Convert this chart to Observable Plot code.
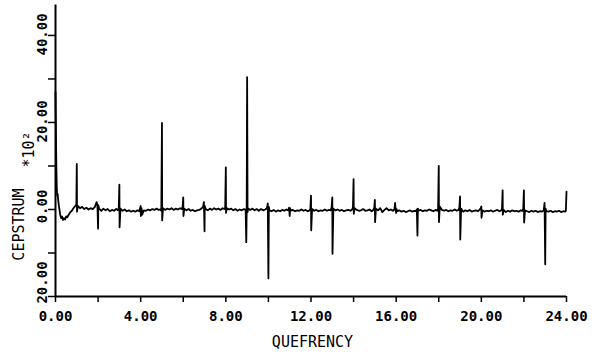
<!DOCTYPE html>
<html><head><meta charset="utf-8">
<script src="https://cdn.jsdelivr.net/npm/d3@7"></script>
<script src="https://cdn.jsdelivr.net/npm/@observablehq/plot@0.6"></script>
<style>
html,body{margin:0;padding:0;background:#fff;}
#chart svg{display:block;background:#fff;}
g[aria-label="xlabels"] text, g[aria-label="ylabels"] text{letter-spacing:1.4px;}
g[aria-label="ytitle"] text{letter-spacing:1px;}
g[aria-label="yscale"] text{letter-spacing:3px;}
g[aria-label="xtitle"] text{letter-spacing:0.3px;}
</style></head><body><div id="chart"></div>
<script>
const quefrency = [
  0,0.02,0.04,0.06,0.08,0.10,0.13,0.17,0.22,0.27,0.31,0.35,0.40,0.45,0.50,0.55,0.62,0.70,0.78,0.86,0.93,0.98,
  1.00,1.01,1.05,1.15,1.25,1.35,1.45,1.55,1.65,1.75,1.85,1.93,1.97,
  2.00,2.01,2.05,2.15,2.25,2.35,2.45,2.55,2.65,2.75,2.85,2.93,2.97,
  3.00,3.01,3.05,3.15,3.25,3.35,3.45,3.55,3.65,3.75,3.85,3.93,3.97,
  4.00,4.01,4.04,4.07,4.15,4.25,4.35,4.45,4.55,4.65,4.75,4.85,4.93,4.97,
  5.00,5.01,5.05,5.15,5.25,5.35,5.45,5.55,5.65,5.75,5.85,5.93,5.97,
  6.00,6.01,6.05,6.15,6.25,6.35,6.45,6.55,6.65,6.75,6.85,6.93,6.97,
  7.00,7.01,7.05,7.15,7.25,7.35,7.45,7.55,7.65,7.75,7.85,7.93,7.97,
  8.00,8.01,8.05,8.15,8.25,8.35,8.45,8.55,8.65,8.75,8.85,8.93,8.96,8.98,
  9.00,9.02,9.05,9.15,9.25,9.35,9.45,9.55,9.65,9.75,9.85,9.93,9.97,
  10.00,10.02,10.05,10.15,10.25,10.35,10.45,10.55,10.65,10.75,10.85,10.93,10.97,
  11.00,11.02,11.05,11.15,11.25,11.35,11.45,11.55,11.65,11.75,11.85,11.93,11.97,
  12.00,12.01,12.05,12.15,12.25,12.35,12.45,12.55,12.65,12.75,12.85,12.93,12.97,
  13.00,13.01,13.05,13.15,13.25,13.35,13.45,13.55,13.65,13.75,13.85,13.93,13.97,
  14.00,14.01,14.05,14.15,14.25,14.35,14.45,14.55,14.65,14.75,14.85,14.93,14.97,
  15.00,15.01,15.05,15.15,15.25,15.35,15.45,15.55,15.65,15.75,15.85,15.92,15.95,15.98,
  16.00,16.02,16.05,16.15,16.25,16.35,16.45,16.55,16.65,16.75,16.85,16.93,16.97,
  17.00,17.02,17.05,17.15,17.25,17.35,17.45,17.55,17.65,17.75,17.85,17.93,17.97,
  18.00,18.01,18.05,18.15,18.25,18.35,18.45,18.55,18.65,18.75,18.85,18.93,18.97,
  19.00,19.01,19.05,19.15,19.25,19.35,19.45,19.55,19.65,19.75,19.85,19.93,19.97,
  20.00,20.01,20.05,20.15,20.25,20.35,20.45,20.55,20.65,20.75,20.85,20.93,20.97,
  21.00,21.01,21.05,21.15,21.25,21.35,21.45,21.55,21.65,21.75,21.85,21.93,21.97,
  22.00,22.01,22.05,22.15,22.25,22.35,22.45,22.55,22.65,22.75,22.85,22.93,22.97,
  23.00,23.02,23.05,23.15,23.25,23.35,23.45,23.55,23.65,23.75,23.85,23.93,23.97,
  24.00
];
const cepstrum = [
  27,18,10,5,3.2,3.6,2.0,0.5,-1.2,-2.0,-1.6,-2.4,-2.0,-2.3,-1.6,-1.8,-1.2,-0.6,-0.2,0.4,0.8,1.2,
  10.5,-0.5,0.8,0.3,0.6,0.1,0.4,0.0,0.3,0.1,0.6,1.7,0.9,
  -4.4,1.0,0.2,-0.3,0.2,-0.2,0.1,-0.4,-0.1,-0.3,0.1,-0.2,0.3,
  5.7,-4.1,0.2,-0.3,0.0,-0.4,-0.2,-0.5,-0.3,-0.5,-0.2,-0.4,0.3,
  0.8,-1.5,0.3,-1.2,-0.2,-0.3,0.0,-0.2,0.1,-0.1,0.2,-0.1,0.0,-0.3,
  19.9,-2.5,0.3,-0.1,0.2,0.0,0.3,-0.1,0.2,0.0,0.3,0.1,0.6,
  2.8,-1.5,0.2,-0.2,0.1,-0.3,-0.1,-0.4,-0.2,-0.1,0.2,0.6,1.7,
  -5.0,0.8,0.1,-0.2,0.2,-0.1,0.3,0.0,0.2,-0.1,0.3,0.1,0.4,
  9.7,-0.8,0.3,0.0,0.2,-0.2,0.1,-0.3,0.0,-0.2,0.1,-0.1,-7.5,0.2,
  30.4,-0.6,0.2,-0.1,0.2,-0.2,0.1,-0.3,0.1,-0.2,0.0,0.3,1.4,
  -15.8,0.6,-0.2,-0.4,-0.1,-0.5,-0.2,-0.4,-0.1,-0.3,0.0,-0.2,0.4,
  -1.5,0.3,-0.3,-0.1,-0.4,-0.2,-0.3,0.0,-0.3,-0.1,-0.4,-0.2,0.2,
  3.2,-4.8,0.1,-0.3,-0.1,-0.4,-0.2,-0.3,0.0,-0.3,-0.1,-0.2,0.6,
  2.8,-10.2,0.2,-0.2,0.0,-0.3,-0.1,-0.4,-0.2,-0.1,-0.3,0.0,0.5,
  7.0,-1.0,0.3,-0.1,-0.3,-0.2,0.1,-0.3,-0.2,0.0,-0.4,-0.1,0.4,
  2.2,-2.9,0.2,-0.2,0.3,-0.6,-0.1,0.3,-0.2,0.0,-0.3,0.1,1.5,-0.3,
  -0.8,0.1,-0.4,-0.2,-0.5,-0.3,-0.6,-0.4,-0.2,-0.5,-0.3,-0.4,0.0,
  -6.0,0.2,-0.3,-0.1,-0.4,-0.2,-0.3,0.0,-0.2,-0.4,-0.1,-0.3,0.3,
  10.0,-2.9,0.7,-0.1,-0.3,-0.1,-0.4,-0.2,-0.3,0.0,-0.3,-0.1,0.5,
  3.0,-6.9,0.2,-0.5,-0.2,-0.4,-0.1,-0.5,-0.3,-0.2,-0.4,0.0,0.3,
  0.7,-1.9,-0.2,-0.5,-0.3,-0.4,-0.2,-0.5,-0.3,-0.1,-0.4,-0.2,0.1,
  4.4,-1.2,-0.1,-0.6,-0.3,-0.5,-0.2,-0.4,-0.3,-0.5,-0.2,-0.3,0.2,
  4.4,-3.0,-0.2,-0.4,-0.6,-0.3,-0.5,-0.3,-0.6,-0.4,-0.5,-0.2,1.5,
  -12.6,0.2,-0.4,-0.5,-0.3,-0.6,-0.4,-0.5,-0.3,-0.6,-0.4,-0.5,-0.3,
  4.1
];
const xTicks = [0, 4, 8, 12, 16, 20, 24];
const xTickLabels = ["0.00", "4.00", "8.00", "12.00", "16.00", "20.00", "24.00"];
const xMinorTicks = [2, 6, 10, 14, 18, 22];
const yTicks = [-20, 0, 20, 40];
const yTickLabels = ["20.00", "0.00", "20.00", "40.00"];
const yMinorTicks = [-10, 10, 30];
const xTitle = "QUEFRENCY";
const yTitle = "CEPSTRUM";
const yScaleNote = "*10²";

const W = 603, H = 354, mL = 55, mR = 37, mT = 4.5, mB = 58;
const frameMid = (mT + (H - mB)) / 2;
const series = quefrency.map((q, i) => ({q, c: cepstrum[i]}));
const xLab = xTicks.map((v, i) => ({v, label: xTickLabels[i]}));
const yLab = yTicks.map((v, i) => ({v, label: yTickLabels[i]}));
const font = "DejaVu Sans Mono";
const yLabOpts = {y: "v", text: "label", frameAnchor: "left", textAnchor: "middle", lineAnchor: "middle", dx: -13, rotate: -90, fontFamily: font, fontSize: 14, fontWeight: "bold", fill: "#000", ariaLabel: "ylabels"};

const chart = Plot.plot({
  width: W, height: H,
  marginLeft: mL, marginRight: mR, marginTop: mT, marginBottom: mB,
  x: {domain: [0, 24], axis: null},
  y: {domain: [-20, 47], axis: null},
  style: {background: "#fff", color: "#000"},
  marks: [
    Plot.line(series, {x: "q", y: "c", stroke: "#000", strokeWidth: 1.8, strokeLinejoin: "round"}),
    Plot.ruleX([0], {stroke: "#000", strokeWidth: 2}),
    Plot.ruleY([-20], {stroke: "#000", strokeWidth: 2}),
    Plot.ruleX([...xTicks, ...xMinorTicks], {x: d => d, y1: -20, y2: -20, insetBottom: -6, stroke: "#000", strokeWidth: 1.5}),
    Plot.ruleY([...yTicks, ...yMinorTicks], {y: d => d, x1: 0, x2: 0, insetLeft: -7, stroke: "#000", strokeWidth: 1.5}),
    Plot.text(xLab, {x: "v", text: "label", frameAnchor: "bottom", textAnchor: "middle", lineAnchor: "middle", dy: 20, fontFamily: font, fontSize: 14, fontWeight: "bold", fill: "#000", ariaLabel: "xlabels"}),
    Plot.text(yLab.filter(d => d.v >= 20), {...yLabOpts, dy: -1}),
    Plot.text(yLab.filter(d => d.v === 0), {...yLabOpts, dy: -3}),
    Plot.text(yLab.filter(d => d.v < 0), {...yLabOpts, dy: -14}),
    Plot.text([xTitle], {text: d => d, frameAnchor: "bottom", textAnchor: "middle", lineAnchor: "middle", dx: 1.5, dy: 46, fontFamily: font, fontSize: 15, fill: "#000", ariaLabel: "xtitle"}),
    Plot.text([yTitle], {text: d => d, frameAnchor: "left", textAnchor: "middle", lineAnchor: "middle", dx: -36, dy: 224 - frameMid, rotate: -90, fontFamily: font, fontSize: 15, fill: "#000", ariaLabel: "ytitle"}),
    Plot.text([yScaleNote], {text: d => d, frameAnchor: "left", textAnchor: "middle", lineAnchor: "middle", dx: -26, dy: 149 - frameMid, rotate: -90, fontFamily: font, fontSize: 15, fill: "#000", ariaLabel: "yscale"})
  ]
});
document.getElementById("chart").appendChild(chart);
</script></body></html>
